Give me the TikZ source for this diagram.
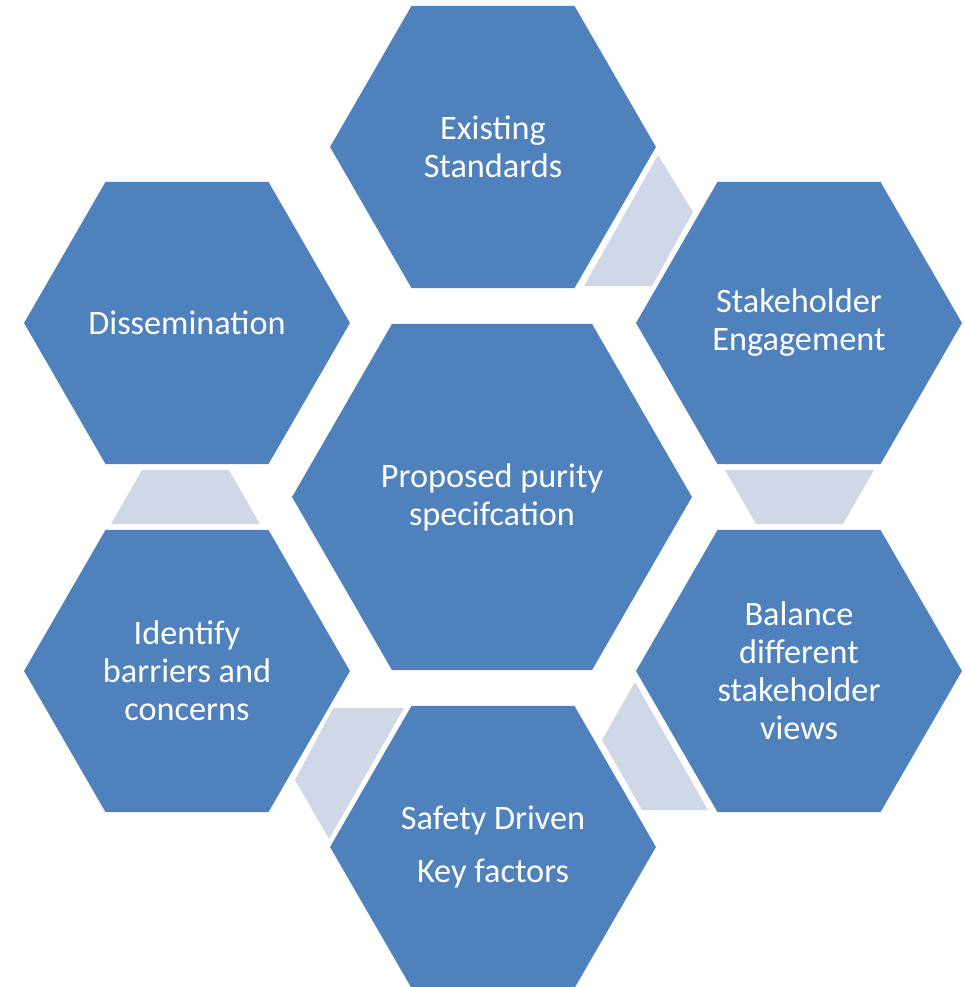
\documentclass[tikz,border=0pt]{standalone}
\usepackage{fontspec}
\setmainfont{Carlito}
\usetikzlibrary{shapes.geometric}
\definecolor{hexblue}{HTML}{4F81BD}
\definecolor{linkgray}{HTML}{D0D8E8}
\begin{document}
\begin{tikzpicture}[x=0.02cm, y=-0.02cm,
        hex/.style={regular polygon, regular polygon sides=6, fill=hexblue, inner sep=0pt, minimum size=6.52cm, text=white, align=center, font=\fontsize{19.5}{21.6}\selectfont},
        bighex/.style={hex, minimum size=8cm},
        link/.style={fill=linkgray}
    ]
        \useasboundingbox (0,0) rectangle (964,987);

        \node[bighex] (purity) at (492,497) {Proposed purity\\specifcation};
        \node[hex] (standards) at (493,147) {Existing\\Standards};
        \node[hex] (engage) at (799,323) {Stakeholder\\Engagement};
        \node[hex] (balance) at (799,671) {Balance\\different\\stakeholder\\views};
        \node[hex] (safety) at (493,847) {Safety Driven\\[8.5pt]Key factors};
        \node[hex] (barriers) at (187,671) {Identify\\barriers and\\concerns};
        \node[hex] (dissem) at (187,323) {Dissemination};

        % links between neighbouring hexagons
        \fill[link] (658,155) -- (693,212) -- (652,286) -- (584,286) -- cycle;
        \fill[link] (725,470) -- (874,470) -- (843,524) -- (756,524) -- cycle;
        \fill[link] (635,682) -- (708,810) -- (642,810) -- (602,740) -- cycle;
        \fill[link] (333,708) -- (404,708) -- (329,839) -- (295,780) -- cycle;
        \fill[link] (142,470) -- (229,470) -- (260,524) -- (111,524) -- cycle;
    \end{tikzpicture}
\end{document}
